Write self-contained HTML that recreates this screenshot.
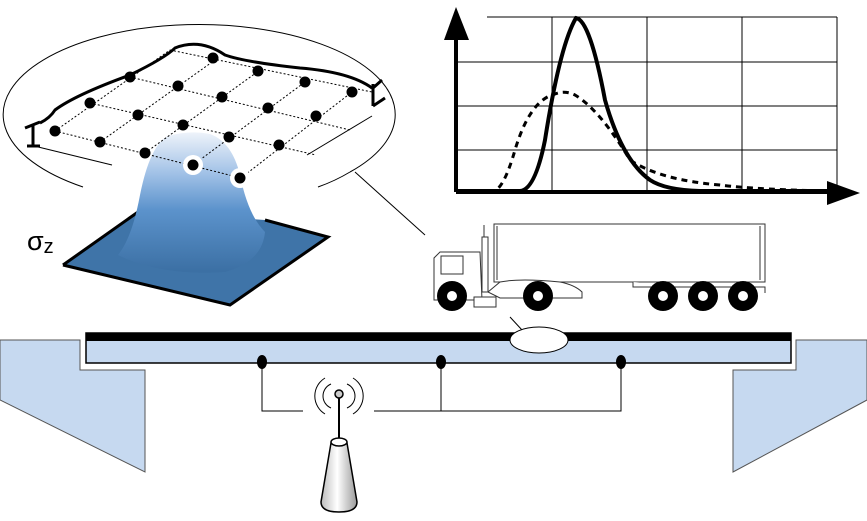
<!DOCTYPE html>
<html><head><meta charset="utf-8"><style>
html,body{margin:0;padding:0;background:#fff;width:867px;height:521px;overflow:hidden}
</style></head><body>
<svg width="867" height="521" viewBox="0 0 867 521" xmlns="http://www.w3.org/2000/svg">
<defs>
<linearGradient id="pk" x1="0" y1="0" x2="0" y2="1">
<stop offset="0" stop-color="#eef3fa"/><stop offset="0.3" stop-color="#9fc0e6"/><stop offset="0.55" stop-color="#5c93cc"/><stop offset="1" stop-color="#3b6fa3"/>
</linearGradient>
<linearGradient id="cone" x1="0" y1="0" x2="1" y2="0">
<stop offset="0" stop-color="#bbb"/><stop offset="0.45" stop-color="#fff"/><stop offset="1" stop-color="#999"/>
</linearGradient>
</defs>

<path d="M83,187 A196,90 0 1 1 350,172" fill="none" stroke="#000" stroke-width="1"/>
<path d="M318,187 Q335,181 350,172" fill="none" stroke="#000" stroke-width="1"/>
<line x1="355" y1="172" x2="425" y2="235" stroke="#000" stroke-width="1"/>
<line x1="30" y1="145" x2="112" y2="165" stroke="#000" stroke-width="1"/>
<line x1="307" y1="155" x2="372" y2="116" stroke="#000" stroke-width="1"/>

<path d="M40,123 Q50,118 55,110 Q75,95 130,75 Q165,58 175,48 Q200,38 225,55 Q245,62 300,68 Q350,72 372,88" fill="none" stroke="#000" stroke-width="3"/>
<path d="M33,125 L33,146 M27,146 L40,146 M25,128 L40,122" stroke="#000" stroke-width="3" fill="none"/>
<path d="M373,84 L373,106 M373,106 L385,98 M373,88 L382,80" stroke="#000" stroke-width="3" fill="none"/>

<!-- peak -->
<polygon points="63,265 138,212 265,220 328,237 230,305" fill="#3f74a8" stroke="none"/>
<path d="M63,265 L138,212 M265,220 L328,237 L230,305 L63,265" fill="none" stroke="#000" stroke-width="3"/>
<path d="M118,255 Q132,238 140,195 Q150,145 168,136 Q190,130 210,134 Q232,142 240,175 Q248,215 265,232 Q262,262 225,272 Q160,276 118,255 Z" fill="url(#pk)"/>

<g stroke="#000" stroke-width="1" stroke-dasharray="2,2" fill="none">
<path d="M55,131 L241,178"/><path d="M90,103 L316,155"/><path d="M130,77 L350,130"/><path d="M170,50 L372,92"/>
<path d="M55,131 L170,50"/><path d="M100,142 L215,60"/><path d="M145,153 L260,70"/><path d="M193,165 L305,82"/><path d="M241,178 L352,92"/>
</g>

<g fill="#000">
<circle cx="55" cy="131" r="5.5"/><circle cx="100" cy="142" r="5.5"/><circle cx="145" cy="153" r="5.5"/>
<circle cx="90" cy="103" r="5.5"/><circle cx="138" cy="115" r="5.5"/><circle cx="183" cy="125" r="5.5"/><circle cx="229" cy="137" r="5.5"/><circle cx="279" cy="145" r="5.5"/>
<circle cx="130" cy="77" r="5.5"/><circle cx="178" cy="86" r="5.5"/><circle cx="222" cy="97" r="5.5"/><circle cx="268" cy="108" r="5.5"/><circle cx="316" cy="116" r="5.5"/>
<circle cx="213" cy="58" r="5.5"/><circle cx="258" cy="71" r="5.5"/><circle cx="305" cy="82" r="5.5"/><circle cx="352" cy="92" r="5.5"/>
</g>
<circle cx="193" cy="165" r="10" fill="#fff"/><circle cx="193" cy="165" r="5.5" fill="#000"/>
<circle cx="240" cy="178" r="10" fill="#fff"/><circle cx="240" cy="178" r="5.5" fill="#000"/>
<text x="27" y="250" font-family="Liberation Sans, DejaVu Sans, sans-serif" font-size="27">σ<tspan font-size="20" dy="3">z</tspan></text>

<!-- chart -->
<g stroke="#000" stroke-width="1">
<line x1="487" y1="17" x2="837" y2="17"/><line x1="456" y1="62" x2="837" y2="62"/><line x1="456" y1="106" x2="837" y2="106"/><line x1="456" y1="150" x2="837" y2="150"/>
<line x1="552" y1="17" x2="552" y2="192"/><line x1="647" y1="17" x2="647" y2="192"/><line x1="742" y1="17" x2="742" y2="192"/><line x1="837" y1="17" x2="837" y2="185"/>
</g>
<line x1="456" y1="192" x2="835" y2="192" stroke="#000" stroke-width="4"/>
<polygon points="860,193 827,181 827,205" fill="#000"/>
<line x1="456" y1="192" x2="456" y2="30" stroke="#000" stroke-width="4"/>
<polygon points="456,7 444,40 469,40" fill="#000"/>
<path d="M456,191 L520,191 Q535,190 545,140 Q560,45 576,18 Q590,20 605,100 Q622,160 650,180 Q665,190 700,191 L835,191" fill="none" stroke="#000" stroke-width="4"/>
<path d="M456,191 L495,191 Q505,185 515,150 Q530,100 555,94 Q565,90 575,95 Q600,110 630,160 Q660,180 720,185 Q760,190 835,191" fill="none" stroke="#000" stroke-width="3" stroke-dasharray="6,5"/>

<!-- truck -->
<g stroke="#333" stroke-width="1" fill="#fff">
<rect x="494" y="224" width="271" height="58"/>
<line x1="497" y1="226" x2="497" y2="280"/><line x1="760" y1="226" x2="760" y2="280"/>
<path d="M633,282 L633,287 L765,287 L765,293"/>
<path d="M434,300 L434,258 L440,252 L480,252 L482,300 Z"/>
<rect x="441" y="256" width="22" height="18"/>
<rect x="482" y="237" width="6" height="55"/>
<line x1="484" y1="237" x2="484" y2="225"/>
<path d="M488,292 L500,282 Q520,278 560,282 Q575,285 582,292 L582,298 L500,298 Z"/>
<rect x="474" y="297" width="22" height="10"/>
</g>
<g>
<circle cx="452" cy="296" r="15" fill="#000"/><circle cx="452" cy="296" r="6" fill="#fff" stroke="#000" stroke-width="2"/>
<circle cx="538" cy="296" r="15" fill="#000"/><circle cx="538" cy="296" r="6" fill="#fff" stroke="#000" stroke-width="2"/>
<circle cx="663" cy="296" r="15" fill="#000"/><circle cx="663" cy="296" r="6" fill="#fff" stroke="#000" stroke-width="2"/>
<circle cx="703" cy="296" r="15" fill="#000"/><circle cx="703" cy="296" r="6" fill="#fff" stroke="#000" stroke-width="2"/>
<circle cx="743" cy="296" r="15" fill="#000"/><circle cx="743" cy="296" r="6" fill="#fff" stroke="#000" stroke-width="2"/>
</g>
<line x1="510" y1="317" x2="522" y2="330" stroke="#000" stroke-width="1"/>

<polygon points="0,340 80,340 80,370 145,370 145,472 0,400" fill="#c6d9f0" stroke="#555" stroke-width="1"/>
<polygon points="867,340 796,340 796,370 733,370 733,472 867,400" fill="#c6d9f0" stroke="#555" stroke-width="1"/>
<rect x="86" y="333" width="705" height="30" fill="#c6d9f0" stroke="#000" stroke-width="1.5"/>
<rect x="86" y="333" width="705" height="8" fill="#000"/>
<ellipse cx="539" cy="340" rx="29" ry="13" fill="#fff" stroke="#000" stroke-width="1"/>

<g fill="#000"><ellipse cx="262" cy="362" rx="5" ry="7"/><ellipse cx="441" cy="362" rx="5" ry="7"/><ellipse cx="621" cy="362" rx="5" ry="7"/></g>
<path d="M262,362 L262,411 L303,411 M374,411 L621,411 L621,362 M441,362 L441,411" fill="none" stroke="#000" stroke-width="1"/>

<g fill="none" stroke="#000" stroke-width="1">
<path d="M331,384 A13,13 0 0 0 331,408"/><path d="M325,378 A21,21 0 0 0 325,414"/>
<path d="M347,384 A13,13 0 0 1 347,408"/><path d="M353,378 A21,21 0 0 1 353,414"/>
</g>
<line x1="339" y1="395" x2="339" y2="441" stroke="#000" stroke-width="2"/>
<circle cx="339" cy="394" r="4" fill="#ccc" stroke="#000" stroke-width="1.5"/>
<path d="M331,443 L321,502 Q321,512 339,512 Q357,512 357,502 L347,443 Z" fill="url(#cone)" stroke="#000" stroke-width="1.5"/>
<ellipse cx="339" cy="442" rx="8" ry="4" fill="#fff" stroke="#000" stroke-width="1.5"/>
</svg>
</body></html>
